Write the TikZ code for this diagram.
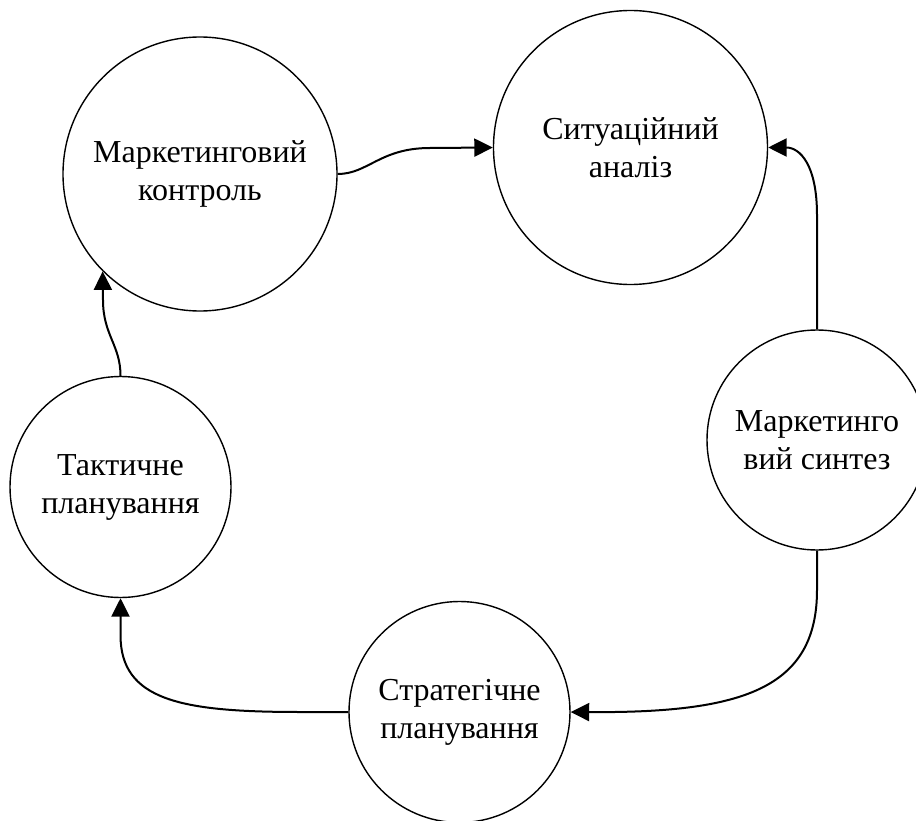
\documentclass[tikz,border=0pt]{standalone}
\usepackage{fontspec}
\setmainfont{Liberation Serif}
\usetikzlibrary{arrows.meta}
\begin{document}
\begin{tikzpicture}[x=1pt,y=-1pt,
  stage/.style={circle,draw=black,line width=1.4pt,fill=white,inner sep=0pt,
    align=center,font=\fontsize{32}{38}\selectfont},
  conn/.style={line width=2pt,-{Triangle[length=18.5pt,width=18pt]}}]
\clip (0,0) rectangle (916,821);
\fill[white] (0,0) rectangle (916,821);
\node[stage,minimum size=274pt] (c1) at (200,174) {Маркетинговий\\контроль};
\node[stage,minimum size=274pt] (c2) at (630.5,147.5) {Ситуаційний\\аналіз};
\node[stage,minimum size=220pt] (c3) at (817,440) {Маркетинго\\вий синтез};
\node[stage,minimum size=221pt] (c4) at (459.5,712) {Стратегічне\\планування};
\node[stage,minimum size=221pt] (c5) at (120.5,487) {Тактичне\\планування};
\draw[conn] (c1.east) .. controls (368,174) and (380,148) .. (430,148) -- (c2.west);
\draw[conn] (c3.north) -- (817,215) .. controls (817,165) and (800,147.5) .. (c2.east);
\draw[conn] (c3.south) -- (817,590) .. controls (817,690) and (740,713) .. (c4.east);
\draw[conn] (c4.west) -- (300,712) .. controls (180,712) and (120.5,700) .. (120.5,635) -- (c5.south);
\draw[conn] (c5.north) .. controls (120.5,345) and (103,335) .. (103,300) -- (c1.225);
\end{tikzpicture}
\end{document}
